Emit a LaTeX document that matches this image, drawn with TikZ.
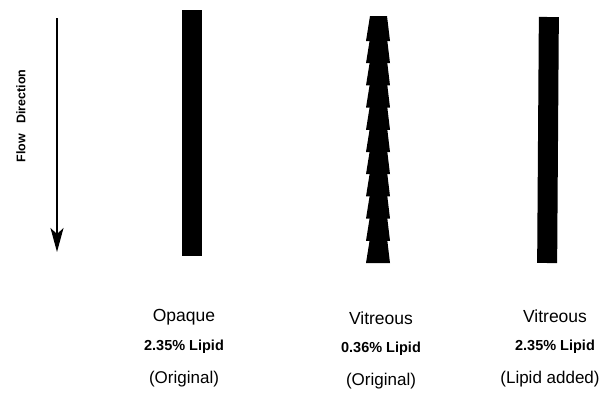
\documentclass[tikz,border=0pt]{standalone}
\usepackage{fontspec}
\setmainfont{Liberation Sans}
\usetikzlibrary{arrows.meta}

\begin{document}
\begin{tikzpicture}[
    x=1pt, y=-1pt,
    bar/.style={rectangle, fill=black, inner sep=0pt, minimum width=20pt, minimum height=246pt},
    kind/.style={font=\fontsize{17.5}{20}\selectfont},
    lipid/.style={font=\bfseries\fontsize{14.5}{16}\selectfont},
    origin/.style={font=\fontsize{17}{20}\selectfont}
]
\useasboundingbox (0,0) rectangle (599,392);

% Flow direction arrow
\coordinate (flowtop) at (57,18);
\coordinate (flowend) at (57,252);
\draw[line width=1.2pt, -{Stealth[length=24pt, width=13pt, inset=6pt]}] (flowtop) -- (flowend);
\node[font=\bfseries\fontsize{12.5}{14}\selectfont, rotate=90] (flowlabel) at (21,116) {Flow\hspace{10pt}Direction};

% Opaque bar
\node[bar] (opaquebar) at (192,133) {};

% Vitreous bar, serrated
\foreach \i in {0,...,10} {
    \fill[black] (370,{16+22.2*\i}) -- (387,{16+22.2*\i}) -- (390,{41+22.2*\i}) -- (366,{41+22.2*\i}) -- cycle;
}
\node[inner sep=0pt, minimum width=20pt, minimum height=246pt] (vitreousbar) at (378,138) {};

% Vitreous bar, lipid added
\node[bar, rotate=-0.4] (addedbar) at (548,140) {};

% Labels - opaque
\node[kind] (opaque) at (184,317) {Opaque};
\node[lipid] (opaquelipid) at (184,347) {2.35\% Lipid};
\node[origin] (opaqueorig) at (184,379) {(Original)};

% Labels - vitreous original
\node[kind] (vitreous) at (381,318) {Vitreous};
\node[lipid] (vitreouslipid) at (381,349) {0.36\% Lipid};
\node[origin] (vitreousorig) at (381,381) {(Original)};

% Labels - lipid added
\node[kind] (added) at (555,316) {Vitreous};
\node[lipid] (addedlipid) at (555,347) {2.35\% Lipid};
\node[origin] (addedorig) at (550,379) {(Lipid added)};

\end{tikzpicture}
\end{document}
